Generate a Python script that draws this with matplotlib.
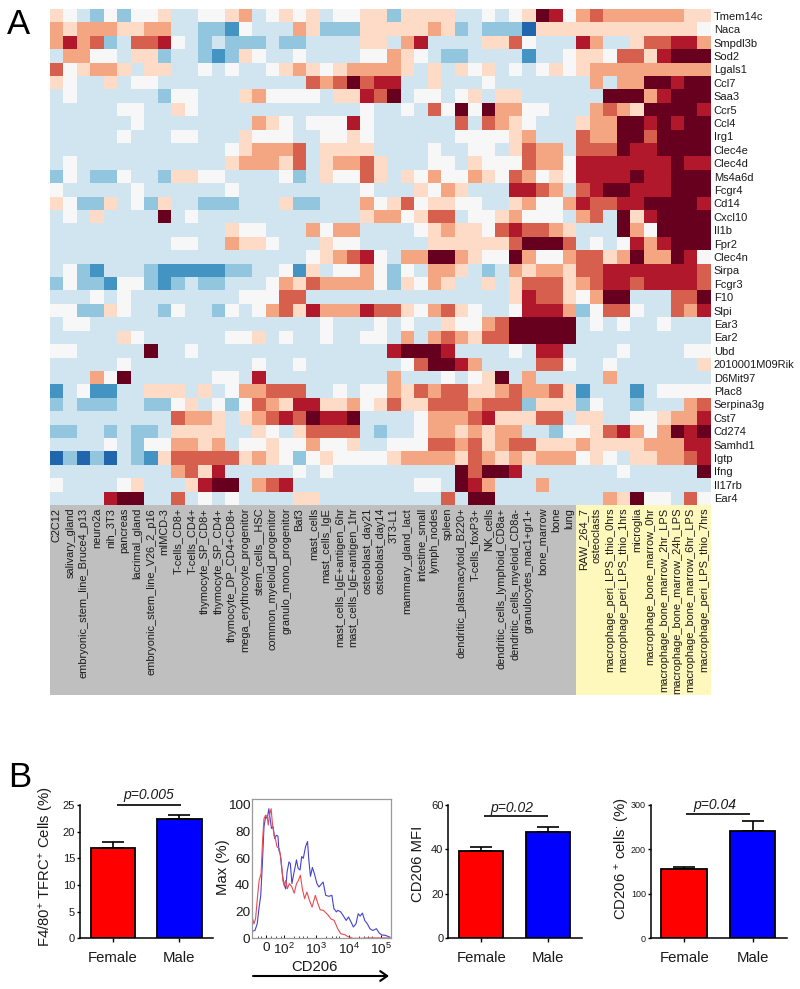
import numpy as np
import matplotlib
matplotlib.use("Agg")
import matplotlib.pyplot as plt
from matplotlib.colors import ListedColormap

plt.rcParams['font.family'] = ['Liberation Sans', 'DejaVu Sans']
plt.rcParams['mathtext.fontset'] = 'custom'
plt.rcParams['mathtext.rm'] = 'Liberation Sans'
plt.rcParams['mathtext.it'] = 'Liberation Sans:italic'
plt.rcParams['mathtext.default'] = 'regular'

W, H = 800, 989

genes = ["Tmem14c","Naca","Smpdl3b","Sod2","Lgals1","Ccl7","Saa3","Ccr5","Ccl4","Irg1","Clec4e","Clec4d",
         "Ms4a6d","Fcgr4","Cd14","Cxcl10","Il1b","Fpr2","Clec4n","Sirpa","Fcgr3","F10","Slpi","Ear3","Ear2",
         "Ubd","2010001M09Rik","D6Mit97","Plac8","Serpina3g","Cst7","Cd274","Samhd1","Igtp","Ifng","Il17rb","Ear4"]

other_tissues = ["C2C12","salivary_gland","embryonic_stem_line_Bruce4_p13","neuro2a","nih_3T3","pancreas",
    "lacrimal_gland","embryonic_stem_line_V26_2_p16","mIMCD-3","T-cells_CD8+","T-cells_CD4+","thymocyte_SP_CD8+",
    "thymocyte_SP_CD4+","thymocyte_DP_CD4+CD8+","mega_erythrocyte_progenitor","stem_cells__HSC",
    "common_myeloid_progenitor","granulo_mono_progenitor","Baf3","mast_cells","mast_cells_IgE",
    "mast_cells_IgE+antigen_6hr","mast_cells_IgE+antigen_1hr","osteoblast_day21","osteoblast_day14","3T3-L1",
    "mammary_gland_lact","intestine_small","lymph_nodes","spleen","dendritic_plasmacytoid_B220+","T-cells_foxP3+",
    "NK_cells","dendritic_cells_lymphoid_CD8a+","dendritic_cells_myeloid_CD8a-","granulocytes_mac1+gr1+",
    "bone_marrow","bone","lung"]
macrophage_tissues = ["RAW_264_7","osteoclasts","macrophage_peri_LPS_thio_0hrs","macrophage_peri_LPS_thio_1hrs",
    "microglia","macrophage_bone_marrow_0hr","macrophage_bone_marrow_2hr_LPS","macrophage_bone_marrow_24h_LPS",
    "macrophage_bone_marrow_6hr_LPS","macrophage_peri_LPS_thio_7hrs"]

level_colors = ["#2166ac","#4393c3","#92c5de","#d1e5f0","#f7f7f7","#fddbc7","#f4a582","#d6604d","#b2182b","#67001f"]

heat_levels = [
 [5,4,3,2,4,2,4,4,5,3,3,4,4,5,6,3,4,5,4,5,3,4,4,5,5,2, 5,5,5,5,3,3,4,3,4,5,9,8,4,6,7,6,6,6,6,6,6,5,5],
 [6,5,6,6,6,5,5,6,6,3,3,2,2,1,4,3,3,3,6,5,2,2,2,5,5,5, 5,5,6,5,2,3,2,2,2,0,5,5,5,5,5,5,5,5,5,5,5,5,4],
 [6,8,6,7,2,3,7,7,8,4,3,2,3,2,2,2,3,2,2,3,3,3,3,5,5,3, 6,8,3,3,3,3,5,5,7,4,3,3,3,8,6,3,3,5,7,7,8,8,6],
 [3,6,6,4,4,3,5,5,2,3,3,2,1,2,5,4,3,3,4,3,3,3,3,4,4,6, 5,4,3,2,2,3,3,3,3,1,3,3,4,5,5,4,7,7,5,8,9,9,9],
 [7,4,5,6,6,5,3,5,5,3,3,4,3,4,3,3,4,5,6,5,4,5,6,6,6,6, 5,3,5,3,5,4,5,3,4,3,4,5,4,5,6,6,6,6,6,6,6,6,6],
 [5,4,3,3,5,3,4,4,3,3,3,3,3,3,3,3,3,3,3,7,6,7,9,7,8,8, 3,3,5,3,3,3,4,3,3,3,3,3,3,3,6,3,6,6,9,9,8,9,9],
 [3,4,3,3,3,3,3,3,2,4,4,3,3,3,5,6,4,4,4,4,3,5,5,8,7,9, 3,4,4,3,4,5,3,5,5,3,3,3,3,3,3,9,9,9,6,8,9,9,9],
 [3,3,3,3,3,4,4,3,3,5,4,3,3,3,3,3,3,3,3,3,3,3,3,4,3,3, 4,3,7,4,9,4,9,6,6,4,4,3,3,3,6,7,6,5,9,9,9,9,8],
 [3,3,3,3,3,3,4,3,3,3,3,3,3,3,3,6,5,4,3,4,4,4,8,4,3,3, 3,3,3,3,7,3,7,6,5,4,3,3,3,5,6,6,9,9,8,9,8,9,9],
 [3,3,3,3,3,4,3,3,3,4,4,3,3,3,5,4,4,4,3,3,4,4,5,4,3,3, 3,3,3,3,4,4,4,4,5,6,3,3,3,7,6,6,9,9,7,9,9,9,9],
 [3,3,3,3,3,3,3,3,3,3,3,3,3,4,5,6,6,6,7,3,5,5,5,5,3,3, 3,3,4,3,3,4,4,3,5,7,6,6,3,7,7,7,9,8,8,9,9,9,9],
 [3,4,3,3,3,3,3,3,3,3,3,3,3,5,6,6,6,5,7,3,5,6,6,7,5,3, 3,3,4,4,3,5,4,4,4,7,6,6,4,8,8,8,8,8,8,8,9,8,8],
 [2,4,3,2,2,4,3,3,2,5,5,4,4,3,3,3,3,4,2,3,5,4,4,7,5,3, 5,4,6,4,4,6,5,4,7,6,4,5,4,8,8,8,8,9,8,8,9,9,9],
 [4,3,3,3,3,3,4,3,3,3,3,3,3,4,3,3,3,3,3,3,3,3,3,4,3,3, 3,5,4,6,5,3,3,3,8,8,7,6,3,7,8,9,9,8,8,8,9,9,9],
 [5,4,2,2,5,3,4,2,5,3,3,2,2,2,3,3,3,5,2,2,3,3,3,6,4,5, 7,4,5,5,4,4,3,3,5,6,4,4,6,8,7,7,8,8,9,9,9,9,8],
 [3,4,3,5,3,3,3,3,9,3,4,3,3,3,3,3,3,3,3,3,3,3,3,5,6,6, 4,5,7,7,3,4,4,5,6,4,4,4,3,6,7,3,9,5,8,9,9,9,9],
 [3,3,3,3,3,3,3,3,3,3,3,3,3,5,4,4,3,3,3,6,4,6,6,3,3,3, 3,4,5,6,5,5,4,7,8,7,7,6,5,3,3,3,9,6,4,9,9,9,9],
 [3,3,3,3,3,3,3,3,3,4,4,3,3,6,5,5,4,3,3,3,5,4,4,3,3,3, 3,3,5,5,5,5,5,5,7,9,9,9,7,3,4,3,4,8,6,8,9,9,9],
 [3,3,3,3,3,3,3,3,3,3,3,3,3,3,3,3,3,3,3,4,5,6,7,8,4,3, 6,6,9,9,6,5,4,4,9,6,4,4,6,7,7,5,6,9,6,6,9,8,4],
 [3,4,2,1,3,3,3,2,1,1,1,1,1,2,2,3,3,4,1,5,3,4,4,6,4,2, 4,3,6,6,5,3,2,3,6,5,6,6,5,7,7,8,8,8,8,8,8,8,7],
 [2,4,2,2,1,4,4,2,1,2,3,2,2,3,3,3,4,6,5,7,6,6,6,6,4,2, 5,4,6,5,3,3,5,3,5,7,7,7,5,6,7,8,8,7,8,8,8,8,7],
 [3,3,3,4,3,4,3,3,3,3,3,3,3,3,4,4,4,7,7,3,3,3,3,3,3,3, 3,3,3,3,3,3,3,3,5,8,7,7,5,4,6,9,9,3,3,3,7,7,9],
 [4,4,2,2,5,4,3,3,2,4,3,3,2,4,3,4,6,7,5,8,6,6,6,8,7,7, 5,4,6,7,5,4,3,3,4,8,8,8,6,2,4,7,7,4,3,3,7,6,8],
 [3,4,4,3,3,3,3,3,3,3,3,3,3,3,3,3,3,3,3,3,4,3,3,3,4,3, 4,3,3,5,4,4,6,7,9,9,9,9,9,3,4,3,4,3,3,4,3,3,3],
 [3,3,3,3,3,5,4,3,3,3,3,3,3,4,4,5,3,4,3,3,4,3,3,4,4,3, 6,3,6,7,6,5,7,7,9,9,9,9,9,3,3,3,3,3,3,3,3,3,3],
 [4,4,3,3,3,3,3,9,3,3,4,3,3,3,3,3,3,3,3,3,3,3,3,3,3,8, 9,9,9,8,3,3,3,3,4,3,8,8,3,3,3,3,4,3,3,3,3,4,4],
 [3,3,3,3,3,4,3,3,3,3,3,3,3,3,3,4,3,3,4,3,3,3,3,3,3,3, 4,7,9,9,8,6,3,3,3,3,7,7,4,3,3,4,3,3,3,3,3,3,5],
 [3,3,3,6,4,9,3,3,3,3,3,3,4,4,3,8,3,3,3,3,3,3,3,3,3,6, 3,3,3,4,3,4,5,9,3,6,3,3,3,3,3,6,3,3,3,3,3,3,3],
 [1,3,4,1,1,3,3,5,5,5,3,5,3,4,6,6,7,7,7,3,3,4,3,4,4,6, 5,7,6,7,7,5,5,6,7,6,6,7,5,1,3,3,3,1,3,4,4,4,4],
 [2,3,2,2,2,3,3,2,2,4,5,3,4,2,4,7,6,5,8,8,5,5,6,4,5,7, 5,5,7,7,7,6,7,7,7,2,5,5,5,2,4,3,3,2,3,3,3,6,7],
 [3,3,3,3,3,3,3,3,3,7,6,6,5,3,5,6,7,8,7,9,8,8,9,3,3,3, 3,4,6,6,6,7,8,5,5,5,7,7,3,5,5,3,3,4,4,5,6,6,8],
 [2,2,3,3,2,3,2,2,3,5,5,5,5,3,3,5,4,3,5,7,7,7,7,3,2,3, 3,4,6,6,5,6,5,6,6,3,3,2,4,4,5,7,8,6,4,6,9,8,9],
 [3,3,3,3,4,3,2,4,4,6,6,5,6,3,4,4,5,4,4,6,4,4,5,3,3,4, 4,4,7,7,6,7,5,6,7,7,5,5,5,6,5,5,5,5,6,6,6,8,8],
 [0,2,0,2,0,3,2,1,5,7,7,7,7,7,5,6,5,4,2,4,5,4,4,4,4,5, 6,6,6,6,5,7,6,5,6,5,6,6,6,4,5,4,3,5,5,6,6,7,8],
 [3,3,3,3,3,3,3,3,3,6,7,5,8,3,3,3,3,3,4,3,4,3,3,3,3,3, 3,3,3,3,9,7,9,9,8,3,3,3,3,3,3,3,4,3,3,3,3,3,9],
 [4,3,3,3,3,4,5,3,3,3,5,8,9,9,3,6,7,8,3,3,3,3,3,3,3,3, 3,4,4,3,9,8,6,3,3,3,6,3,3,3,3,3,3,3,3,3,3,3,3],
 [3,3,3,3,8,9,9,3,3,7,3,4,3,4,3,3,3,3,5,5,3,3,3,3,3,3, 3,3,3,7,3,9,9,3,3,3,3,3,3,3,3,6,5,9,4,4,3,7,4],
]

sexes = ["Female", "Male"]
tfrc_means = [17.0, 22.4]
tfrc_errs = [1.1, 0.8]
mfi_means = [39.3, 47.8]
mfi_errs = [1.6, 2.1]
cd206_means = [156, 241.5]
cd206_errs = [4, 22.5]

# flow histogram, x in decades of the display scale
blue_x = [1.03,1.11,1.18,1.24,1.29,1.34,1.39,1.44,1.49,1.54,1.57,1.62,1.67,1.72,1.77,1.82,1.85,1.89,1.92,1.97,2.02,2.06,2.10,2.16,2.20,2.25,2.30,2.35,2.39,2.44,2.50,2.55,2.60,2.67,2.73,2.77,2.82,2.88,2.94,3.02,3.08,3.21,3.29,3.39,3.48,3.54,3.62,3.66,3.75,3.82,3.92,3.99,4.07,4.14,4.22,4.29,4.35,4.42,4.49,4.57,4.65,4.74,4.85,4.94,5.02,5.12,5.27]
blue_y = [5.3,5.8,10.8,23.4,32.2,56.0,83.6,91.2,89.9,97.2,91.2,82.4,83.6,74.8,77.3,76.6,65.8,63.3,55.8,45.7,39.4,37.0,49.8,57.3,56.0,41.0,47.6,53.8,58.8,52.5,51.2,61.3,60.0,68.8,72.6,58.8,46.5,53.1,48.5,41.0,38.5,42.2,32.2,31.5,32.2,22.3,19.8,21.0,19.8,17.3,13.4,16.0,12.2,8.5,10.8,18.4,16.7,18.9,13.4,10.9,7.2,5.9,7.2,3.8,2.4,2.3,0.8]
red_x = [1.03,1.08,1.13,1.18,1.24,1.30,1.35,1.39,1.44,1.49,1.52,1.56,1.61,1.65,1.70,1.75,1.79,1.86,1.92,1.97,2.01,2.06,2.11,2.17,2.24,2.32,2.39,2.45,2.51,2.57,2.64,2.71,2.79,2.87,2.97,3.05,3.12,3.22,3.35,3.45,3.55,3.66,3.76,3.87,3.97,4.12,4.38,4.63,5.27]
red_y = [15.8,10.8,14.6,28.4,43.4,48.5,74.8,89.9,92.4,91.2,84.9,92.4,97.2,85.9,77.3,73.6,68.6,67.3,58.4,43.4,39.6,43.4,37.2,41.0,39.0,33.9,41.0,43.4,47.3,37.2,29.7,34.7,28.4,23.4,32.2,25.9,21.4,20.9,17.8,14.6,13.4,7.1,3.3,2.8,1.3,0.0,0.0,0.3,0.3]
ax_flow_xticks = [1.45, 2, 3, 4, 5]
ax_flow_xlabels = ["0", "$10^{2}$", "$10^{3}$", "$10^{4}$", "$10^{5}$"]
decade_minor = [1.2, 1.3, 1.6, 1.75, 1.9, 2.3, 2.48, 2.6, 2.7, 3.3, 3.48, 3.6, 3.7, 4.3, 4.48, 4.6, 4.7]


def px_axes(fig, left, top, right, bottom, **kw):
    return fig.add_axes([left / W, 1 - bottom / H, (right - left) / W, (bottom - top) / H], **kw)


fig = plt.figure(figsize=(W / 100, H / 100), dpi=100)
TXT = "#1a1a1a"

# column label panel
n_other = len(other_tissues)
n_macro = len(macrophage_tissues)
n_cols = n_other + n_macro
ax_bg = px_axes(fig, 50, 505, 711, 695)
ax_bg.set_xlim(-0.5, n_cols - 0.5)
ax_bg.set_ylim(0, 1)
ax_bg.axvspan(-0.5, n_other - 0.5, color="#bfbfbf", lw=0)
ax_bg.axvspan(n_other - 0.5, n_cols - 0.5, color="#fff8bd", lw=0)
ax_bg.axis("off")

# heat map
ax = px_axes(fig, 50, 9, 711, 505)
cmap = ListedColormap(level_colors)
ax.imshow(np.array(heat_levels), cmap=cmap, vmin=-0.5, vmax=9.5, aspect="auto", interpolation="nearest")
ax.set_yticks(range(len(genes)), genes, fontsize=8, color=TXT)
ax.yaxis.tick_right()
ax.set_xticks(range(n_cols), other_tissues + macrophage_tissues, rotation=90, fontsize=7.9, color=TXT)
ax.tick_params(axis="both", length=0, pad=2)
for s in ax.spines.values():
    s.set_visible(False)

fig.text(7 / W, 1 - 34.5 / H, "A", fontsize=25, color="black", va="baseline")
fig.text(8 / W, 1 - 787 / H, "B", fontsize=25, color="black", va="baseline")


def bar_panel(left, right, ymax, yticks, means, errs, ylabel, ylabel_x, ylabel_y, ptext, line_y, line_span, ptext_x, ptext_y, tick_size):
    a = px_axes(fig, left, 805, right, 938.3)
    a.bar([0, 1], means, width=0.665, color=["#ff0000", "#0000ff"], edgecolor="black", linewidth=1.3, zorder=2,
          yerr=[[0, 0], errs], ecolor="black", error_kw=dict(capsize=8.2, capthick=1.2, elinewidth=1.2))
    a.set_xlim(-0.49, 1.5)
    a.set_ylim(0, ymax)
    a.set_xticks([0, 1], sexes, fontsize=10.7, color=TXT)
    a.set_yticks(yticks)
    a.tick_params(axis="y", labelsize=tick_size, length=2.5, width=1.0, pad=1, labelcolor=TXT)
    a.tick_params(axis="x", length=3, width=1.0, pad=5.8)
    for s in ("top", "right"):
        a.spines[s].set_visible(False)
    for s in ("left", "bottom"):
        a.spines[s].set_linewidth(1.1)
    a.plot(line_span, [line_y, line_y], color="black", lw=1.2, clip_on=False, solid_capstyle="butt")
    fig.text(ptext_x / W, 1 - ptext_y / H, ptext, style="italic", fontsize=10, color=TXT, ha="center", va="center")
    fig.text(ylabel_x / W, 1 - ylabel_y / H, ylabel, rotation=90, fontsize=10.7, color=TXT, ha="center", va="center")
    return a


bar_panel(80, 212.7, 25, [0, 5, 10, 15, 20, 25], tfrc_means, tfrc_errs, "F4/80$^{+}$ TFRC$^{+}$ Cells (%)", 47, 866.7,
          "p=0.005", 25, [0.07, 1.02], 149, 795, 8)
bar_panel(448.3, 581.7, 60, [0, 20, 40, 60], mfi_means, mfi_errs, "CD206 MFI", 418, 864,
          "p=0.02", 54.9, [0.05, 1.0], 511.7, 808, 8)
bar_panel(650.7, 786.7, 300, [0, 100, 200, 300], cd206_means, cd206_errs, "CD206 $^{+}$ cells$^{\\cdot}$ (%)", 622, 858.7,
          "p=0.04", 279, [0.02, 0.97], 715, 805, 6.5)

# flow histogram
axf = px_axes(fig, 252.3, 798.7, 390.7, 938.3)
axf.plot(blue_x, blue_y, color="#4343d2", lw=0.8)
axf.plot(red_x, red_y, color="#ea4a52", lw=0.8)
axf.set_xlim(1.03, 5.29)
axf.set_ylim(0, 104.7)
axf.set_yticks([0, 20, 40, 60, 80, 100])
axf.set_xticks(ax_flow_xticks, ax_flow_xlabels)
axf.set_xticks(decade_minor, minor=True)
axf.tick_params(axis="y", labelsize=9.7, length=0, pad=1.5, labelcolor=TXT)
axf.tick_params(axis="x", which="major", labelsize=9.7, length=2.5, width=0.7, pad=2.5, direction="in", labelcolor=TXT)
axf.tick_params(axis="x", which="minor", length=1.3, width=0.5, direction="in")
for s in axf.spines.values():
    s.set_color("#9a9a9a")
    s.set_linewidth(0.9)
fig.text(223 / W, 1 - 866.7 / H, "Max (%)", rotation=90, fontsize=10.7, color=TXT, ha="center", va="center")
fig.text(314 / W, 1 - 967 / H, "CD206", fontsize=10.7, color=TXT, ha="center", va="center")
fig.patches.append(matplotlib.patches.FancyArrowPatch(
    (253 / W, 1 - 976 / H), (389 / W, 1 - 976 / H), transform=fig.transFigure, arrowstyle="->,head_length=5,head_width=3.5",
    lw=1.5, color="black", shrinkA=0, shrinkB=0))

fig.savefig("out.png", dpi=100)
